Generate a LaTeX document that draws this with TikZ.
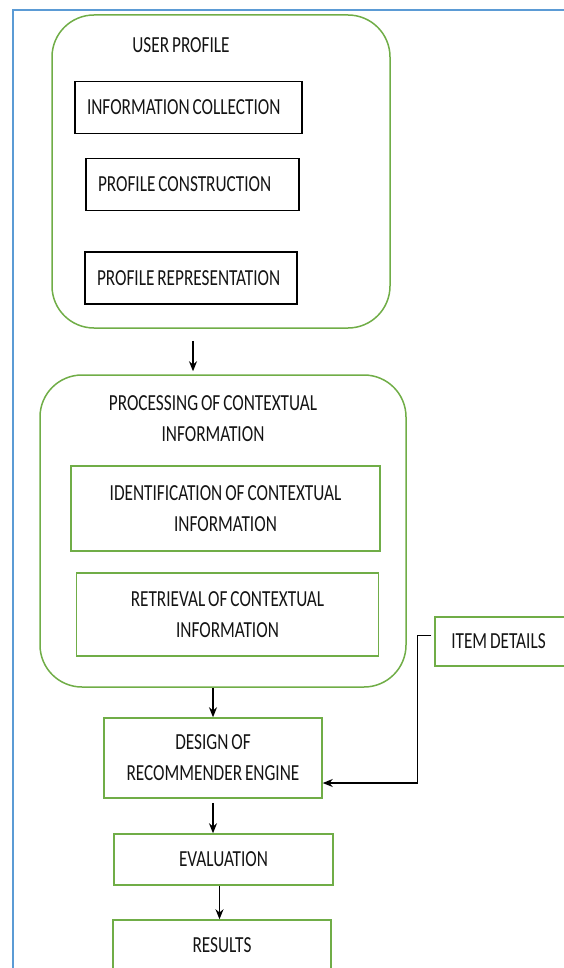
\documentclass[tikz,border=0pt]{standalone}
\usepackage{fontspec}
\setmainfont{Carlito}[FakeStretch=0.75, WordSpace=0.75]
\usepackage{xcolor}
\usetikzlibrary{calc,arrows.meta}
\definecolor{framblue}{HTML}{5B9BD5}
\definecolor{boxgreen}{HTML}{70AD47}
\definecolor{txtgray}{HTML}{141414}

\begin{document}
\begin{tikzpicture}[x=1pt, y=-1pt, font=\fontsize{23}{31}\selectfont, text=txtgray]
    % Styles for boxes and lines
    \tikzstyle{box} = [rectangle, draw=black, line width=1.5pt, align=flush left, inner xsep=12pt, minimum height=52pt]
    \tikzstyle{gbox} = [rectangle, draw=boxgreen, line width=1.5pt, align=center, inner sep=0pt]
    \tikzstyle{group} = [rectangle, rounded corners=42pt, draw=boxgreen, line width=1.5pt, inner sep=0pt]
    \tikzstyle{arrow} = [line width=1.3pt, black, -{Stealth[length=10pt, width=8pt]}]

    \useasboundingbox (0,0) rectangle (564,968);

  % Outer frame (top and left side only)
    \draw[framblue, line width=2pt] (13,968) -- (13,10) -- (566,10);

  % Group boxes with explicit coordinates
    \node[group, minimum width=338pt, minimum height=313pt] (userprofile) at (221,171.5) {};
    \node (uptitle) at (181,45) {USER PROFILE};
    \node[box, text width=203pt] (infocoll) at (188.5,107.5) {INFORMATION COLLECTION};
    \node[box, text width=189pt] (profcons) at (192.5,184.5) {PROFILE CONSTRUCTION};
    \node[box, text width=188pt] (profrep) at (191,278) {PROFILE REPRESENTATION};

    \node[group, minimum width=366pt, minimum height=312pt] (processing) at (223,531) {};
    \node[align=center] (proctitle) at (213,419) {PROCESSING OF CONTEXTUAL\\INFORMATION};
    \node[gbox, minimum width=309pt, minimum height=85pt] (identify) at (225.5,508.5) {IDENTIFICATION OF CONTEXTUAL\\INFORMATION};
    \node[gbox, minimum width=302pt, minimum height=83pt] (retrieve) at (227.5,614.5) {RETRIEVAL OF CONTEXTUAL\\INFORMATION};

  % Item details and the steps below
    \node[gbox, minimum width=131pt, minimum height=49pt] (items) at (500.5,641.5) {\hspace*{-4pt}ITEM DETAILS};
    \node[gbox, minimum width=218pt, minimum height=80pt] (design) at (213,758) {DESIGN OF\\RECOMMENDER ENGINE};
    \node[gbox, minimum width=219pt, minimum height=51pt] (evaluation) at (223.5,859.5) {EVALUATION};
    \node[gbox, minimum width=218pt, minimum height=50pt] (results) at (222,945) {RESULTS};

  % Arrows
    \draw[arrow, shorten <=12pt, shorten >=3pt] ([xshift=-28pt]userprofile.south) -- ([xshift=-28pt]userprofile.south |- processing.north);
    \draw[arrow] (design.north |- processing.south) -- (design.north);
    \draw[arrow, shorten <=4pt] (design.south) -- (design.south |- evaluation.north);
    \draw[arrow] ([xshift=-4pt]evaluation.south) -- ([xshift=-4pt]evaluation.south |- results.north);
    \draw[arrow] ([xshift=-3pt,yshift=6pt]items.west) -- ++(-14pt,0) |- ([yshift=-25pt]design.east);

\end{tikzpicture}
\end{document}
